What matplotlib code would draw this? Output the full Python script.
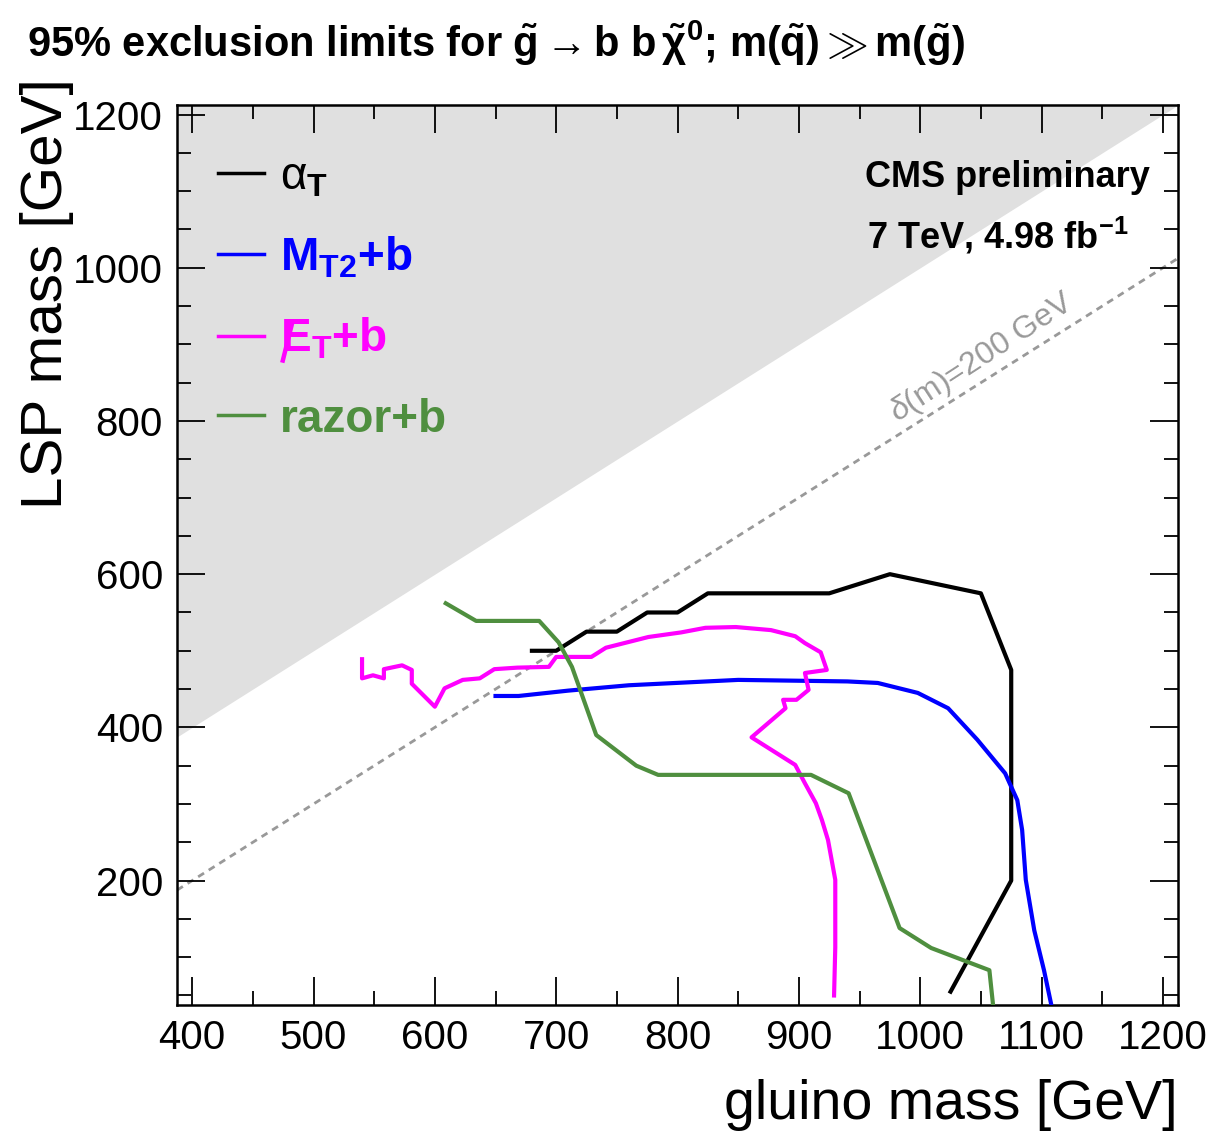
import numpy as np
import matplotlib
matplotlib.use("Agg")
import matplotlib.pyplot as plt
from matplotlib.lines import Line2D
from matplotlib.ticker import MultipleLocator

plt.rcParams['font.family'] = ['Liberation Sans', 'DejaVu Sans']
plt.rcParams['mathtext.fontset'] = 'custom'
plt.rcParams['mathtext.rm'] = 'Liberation Sans'
plt.rcParams['mathtext.it'] = 'Liberation Sans:italic'
plt.rcParams['mathtext.bf'] = 'Liberation Sans:bold'

# ---- data (GeV) ----
alphaT_x = [680, 700, 725, 750, 775, 800, 825, 925, 975, 1050, 1075, 1075, 1025]
alphaT_y = [500, 500, 525, 525, 550, 550, 575, 575, 600, 575, 475, 200, 55]

mt2b_x = [650, 669, 710, 760, 850, 940, 965, 998, 1023, 1047, 1070, 1080, 1084, 1087, 1094, 1102, 1108]
mt2b_y = [441, 441, 448, 455, 462, 460, 458, 445, 425, 384, 340, 305, 266, 201, 135, 83, 38]

metb_x = [540, 540, 549, 558, 558, 573, 581, 581, 600, 608, 623, 637, 649, 668, 694, 700,
          729, 741, 776, 803, 823, 848, 877, 897, 905, 918, 923, 905, 908, 898, 887, 889,
          861, 897, 905, 914, 919, 924, 930, 930, 929]
metb_y = [489, 464, 468, 464, 476, 481, 475, 457, 427, 451, 462, 464, 476, 478, 479, 492,
          492, 504, 518, 524, 530, 531, 527, 519, 510, 498, 475, 471, 449, 436, 436, 425,
          387, 351, 327, 301, 279, 253, 201, 113, 50]

razorb_x = [609, 634, 686, 702, 713, 733, 766, 784, 910, 941, 983, 1009, 1057, 1060]
razorb_y = [562, 539, 539, 511, 479, 390, 350, 338, 338, 314, 138, 112, 83, 38]

series = [
    (alphaT_x, alphaT_y, 'black', r'$\mathrm{\alpha}_{\mathbf{T}}$', 'normal'),
    (mt2b_x, mt2b_y, '#0000ff', r'$\mathbf{M_{T2}}$+b', 'bold'),
    (metb_x, metb_y, '#ff00ff', r'$\mathbf{E_{T}}$+b', 'bold'),
    (razorb_x, razorb_y, '#4f8f3f', 'razor+b', 'bold'),
]

xmin, xmax = 387.5, 1212.5
ymin, ymax = 37.5, 1212.5
delta_m = 200

fig = plt.figure(figsize=(12.14, 11.39), dpi=100)
ax = fig.add_axes([0.1458, 0.1176, 0.8246, 0.7902])

# forbidden region m(LSP) > m(gluino)
xx = np.array([xmin, xmax])
ax.fill_between(xx, xx, ymax, color='#e0e0e0', lw=0, zorder=0)
# delta m = 200 line
ax.plot(xx, xx - delta_m, ls=(0, (2.5, 2.0)), color='#999999', lw=2.0, zorder=1)
ax.text(985, 788, r'$\delta$(m)=200 GeV', color='#999999', fontsize=23,
        rotation=33, rotation_mode='anchor', ha='left', va='bottom')

handles = []
for x, y, c, lab, w in series:
    h, = ax.plot(x, y, color=c, lw=3, label=lab, solid_joinstyle='round', zorder=3)
    handles.append(h)

leg = ax.legend(handles=handles, loc='upper left', bbox_to_anchor=(0.0, 0.99),
                frameon=False, fontsize=33, handlelength=1.0, handletextpad=0.35,
                labelspacing=0.78)
for t, (x, y, c, lab, w) in zip(leg.get_texts(), series):
    t.set_color(c)
    t.set_fontweight(w)
for lh in leg.get_lines():
    lh.set_linewidth(2.5)

ax.text(0.972, 0.92, 'CMS preliminary', transform=ax.transAxes, ha='right', va='center',
        fontsize=26, fontweight='bold')
ax.text(0.95, 0.855, r'7 TeV, 4.98 fb$^{\mathbf{-1}}$', transform=ax.transAxes, ha='right',
        va='center', fontsize=26, fontweight='bold')

ax.set_xlim(xmin, xmax)
ax.set_ylim(ymin, ymax)
ax.xaxis.set_major_locator(MultipleLocator(100))
ax.xaxis.set_minor_locator(MultipleLocator(50))
ax.yaxis.set_major_locator(MultipleLocator(200))
ax.yaxis.set_minor_locator(MultipleLocator(50))
ax.tick_params(which='both', direction='in', top=True, right=True, width=1.3, colors='black')
ax.tick_params(which='major', length=20, labelsize=29, pad=10)
ax.tick_params(which='minor', length=10)
for s in ax.spines.values():
    s.set_linewidth(1.8)

ax.set_xlabel('gluino mass [GeV]', loc='right', fontsize=40, labelpad=16)
ax.set_ylabel('LSP mass [GeV]', loc='top', fontsize=42, labelpad=2)
ax.yaxis.set_label_coords(-0.103, 1.03, transform=ax.transAxes)
ax.yaxis.label.set_horizontalalignment('right')

fig.text(0.022, 0.962,
         r'95% exclusion limits for $\mathbf{\tilde{g}}\rightarrow$b b$\,\mathbf{\tilde{\chi}^{0}}$; '
         r'm($\mathbf{\tilde{q}}$)$\gg$m($\mathbf{\tilde{g}}$)',
         fontsize=30, fontweight='bold', ha='left', va='center')

# slash through the E of the missing-ET legend label (drawn as a line)
fig.canvas.draw()
renderer = fig.canvas.get_renderer()
bb = leg.get_texts()[2].get_window_extent(renderer)
W, H = fig.bbox.width, fig.bbox.height
x0 = bb.x0 + 0.02 * bb.width
x1 = bb.x0 + 0.12 * bb.width
y0 = bb.y0 - 0.02 * bb.height
y1 = bb.y0 + 0.92 * bb.height
fig.add_artist(Line2D([x0 / W, x1 / W], [y0 / H, y1 / H], transform=fig.transFigure,
                      color='#ff00ff', lw=3.2, solid_capstyle='butt'))

fig.savefig('out.png', dpi=100)
